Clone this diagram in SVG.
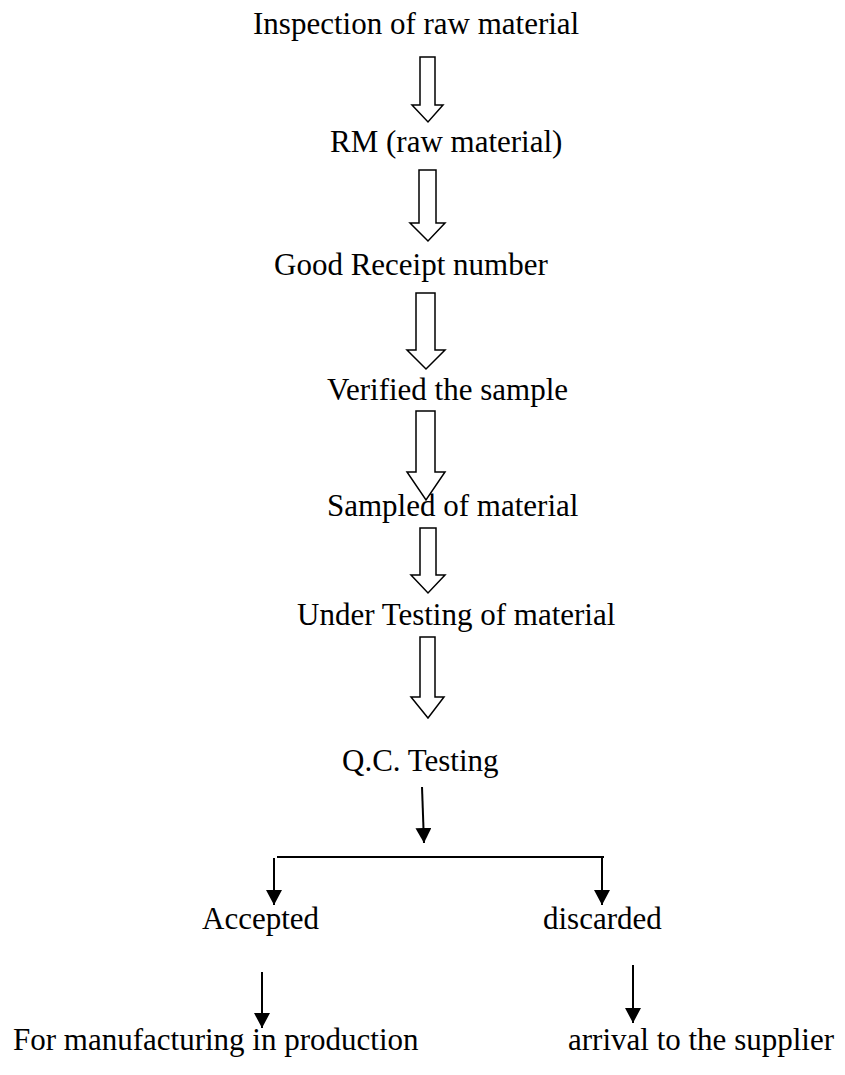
<svg xmlns="http://www.w3.org/2000/svg" width="845" height="1075" viewBox="0 0 845 1075">
<style>
text{font-family:"Liberation Serif","Times New Roman",serif;font-size:31px;fill:#000}
.blk{fill:#fff;stroke:#000;stroke-width:1.5;stroke-linejoin:miter}
.ln{stroke:#000;stroke-width:2;fill:none}
</style>
<defs>
<marker id="ah" markerUnits="userSpaceOnUse" markerWidth="16" markerHeight="16" viewBox="0 0 16 16" refX="15" refY="8" orient="auto">
<path d="M0,0 L15,8 L0,16 Z" fill="#000"/>
</marker>
</defs>
<rect width="845" height="1075" fill="#fff"/>
<g id="n1"><text x="253" y="34">Inspection of raw material</text></g>
<g id="n2"><text x="330" y="152">RM (raw material)</text></g>
<g id="n3"><text x="274" y="275">Good Receipt number</text></g>
<g id="n4"><text x="327" y="400">Verified the sample</text></g>
<g id="n5"><text x="327" y="516">Sampled of material</text></g>
<g id="n6"><text x="297" y="625">Under Testing of material</text></g>
<g id="n7"><text x="342" y="771">Q.C. Testing</text></g>
<g id="n8"><text x="202" y="929">Accepted</text></g>
<g id="n9"><text x="543" y="929">discarded</text></g>
<g id="n10"><text x="13" y="1050">For manufacturing in production</text></g>
<g id="n11"><text x="568" y="1050">arrival to the supplier</text></g>
<g id="connectors">
<path class="blk" d="M420,57 L435,57 L435,105 L443,105 L428,122 L412,105 L420,105 Z"/>
<path class="blk" d="M419,170 L436,170 L436,223 L445,223 L428,241 L410,223 L419,223 Z"/>
<path class="blk" d="M416,293 L435,293 L435,350 L445,350 L426,369 L407,350 L416,350 Z"/>
<path class="blk" d="M416,411 L435,411 L435,472 L445,472 L426,500 L407,472 L416,472 Z"/>
<path class="blk" d="M420,528 L436,528 L436,575 L445,575 L428,593 L411,575 L420,575 Z"/>
<path class="blk" d="M420,637 L435,637 L435,697 L444,697 L428,718 L411,697 L420,697 Z"/>
<line class="ln" x1="422" y1="787" x2="424" y2="843" marker-end="url(#ah)"/>
<line class="ln" x1="277" y1="857" x2="604" y2="857"/>
<line class="ln" x1="274" y1="858" x2="274" y2="905" marker-end="url(#ah)"/>
<line class="ln" x1="602" y1="858" x2="602" y2="905" marker-end="url(#ah)"/>
<line class="ln" x1="262" y1="972" x2="262" y2="1028" marker-end="url(#ah)"/>
<line class="ln" x1="633" y1="965" x2="633" y2="1023" marker-end="url(#ah)"/>
</g>
</svg>
